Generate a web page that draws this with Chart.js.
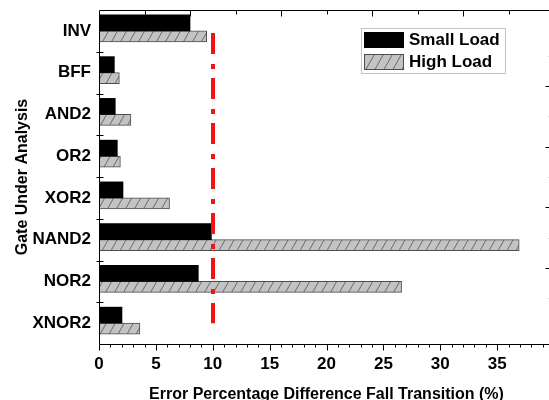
<!DOCTYPE html>
<html><head><meta charset="utf-8">
<script src="https://cdn.jsdelivr.net/npm/chart.js@4.4.0/dist/chart.umd.min.js"></script>
<style>html,body{margin:0;padding:0;overflow:hidden;background:#fff}#wrap{width:560px;height:410px;position:relative}</style>
</head><body><div id="wrap"><canvas id="c"></canvas></div>
<script>
const categories = ['INV','BFF','AND2','OR2','XOR2','NAND2','NOR2','XNOR2'];
const smallLoad = [8.0, 1.35, 1.43, 1.61, 2.11, 9.88, 8.73, 2.02];
const highLoad = [9.47, 1.79, 2.81, 1.88, 6.2, 36.94, 26.6, 3.6];
const seriesNames = ['Small Load', 'High Load'];
const xTickStep = 5;
const xMin = 0, xMax = 40;
const thresholdValue = 10;

const FONT = "'Liberation Sans', Arial, sans-serif";

function makeHatch() {
  const w = 9, h = 16;
  const c = document.createElement('canvas');
  c.width = w; c.height = h;
  const g = c.getContext('2d');
  g.fillStyle = '#c3c3c3';
  g.fillRect(0, 0, w, h);
  g.strokeStyle = '#6a6a6a';
  g.lineWidth = 1;
  for (const off of [-w, 0, w]) {
    g.beginPath();
    g.moveTo(off, h);
    g.lineTo(off + w, 0);
    g.stroke();
  }
  return document.getElementById('c').getContext('2d').createPattern(c, 'repeat');
}
const hatch = makeHatch();

const framePlugin = {
  id: 'frame',
  afterDatasetsDraw(chart) {
    const ctx = chart.ctx;
    const xs = chart.scales.x, ys = chart.scales.y;
    const x = Math.round(xs.getPixelForValue(thresholdValue));
    ctx.save();
    ctx.strokeStyle = '#f01414';
    ctx.lineWidth = 4;
    ctx.setLineDash([21, 10, 5, 9]);
    ctx.beginPath();
    ctx.moveTo(x, ys.getPixelForValue(0) + 2);
    ctx.lineTo(x, ys.getPixelForValue(categories.length - 1));
    ctx.stroke();
    ctx.restore();
  },
  afterDraw(chart) {
    const ctx = chart.ctx;
    const a = chart.chartArea;
    const xs = chart.scales.x, ys = chart.scales.y, y2 = chart.scales.y2;
    ctx.save();
    ctx.strokeStyle = '#000';
    ctx.lineWidth = 1;
    const L = Math.round(a.left) + 0.5, T = Math.round(a.top) + 0.5, B = Math.round(a.bottom) + 0.5, R = Math.round(a.right) + 0.5;
    ctx.beginPath();
    ctx.moveTo(L, T); ctx.lineTo(R, T); ctx.lineTo(R, B); ctx.lineTo(L, B); ctx.closePath();
    ctx.stroke();
    ctx.beginPath();
    for (let v = xMin; v < xMax; v += 1) {
      const px = Math.round(xs.getPixelForValue(v)) + 0.5;
      const len = v % xTickStep === 0 ? 6 : 3;
      ctx.moveTo(px, B); ctx.lineTo(px, B + len);
    }
    for (let v = 4; v < xMax; v += 4) {
      const px = Math.round(xs.getPixelForValue(v)) + 0.5;
      const len = v % 8 === 0 ? 6 : 4;
      ctx.moveTo(px, T); ctx.lineTo(px, T + len);
    }
    for (let i = 1; i < categories.length; i++) {
      const py = Math.round((ys.getPixelForValue(i - 1) + ys.getPixelForValue(i)) / 2) + 0.5;
      ctx.moveTo(L - 3, py); ctx.lineTo(L + 4, py);
    }
    ctx.stroke();
    ctx.beginPath();
    for (let v = 1; v < 5; v++) {
      const py = Math.round(y2.getPixelForValue(v)) + 0.5;
      ctx.moveTo(R, py); ctx.lineTo(R - 9, py);
    }
    ctx.stroke();
    ctx.strokeStyle = '#bbb';
    ctx.beginPath();
    for (let v = 0.5; v < 5; v += 1) {
      const py = Math.round(y2.getPixelForValue(v)) + 0.5;
      ctx.moveTo(R, py); ctx.lineTo(R - 6, py);
    }
    ctx.stroke();

    const lx = 361.5, ly = 28.5, lw = 144, lh = 45;
    ctx.fillStyle = '#fff';
    ctx.fillRect(lx, ly, lw, lh);
    ctx.strokeStyle = '#c4c4c4';
    ctx.strokeRect(lx, ly, lw, lh);
    const ds = chart.data.datasets;
    const rows = [32, 54];
    ctx.font = 'bold 17px ' + FONT;
    ctx.textBaseline = 'middle';
    ds.forEach((d, i) => {
      const by = rows[i];
      ctx.fillStyle = d.backgroundColor;
      ctx.fillRect(364, by, 40, 16);
      if (d.borderWidth) {
        ctx.strokeStyle = d.borderColor;
        ctx.strokeRect(364.5, by + 0.5, 39, 15);
      }
      ctx.fillStyle = '#000';
      ctx.fillText(d.label, 409, by + 8.5);
    });
    ctx.restore();
  }
};

new Chart(document.getElementById('c'), {
  type: 'bar',
  data: {
    labels: categories,
    datasets: [
      { label: seriesNames[0], data: smallLoad, backgroundColor: '#000', borderWidth: 0, barThickness: 16 },
      { label: seriesNames[1], data: highLoad, backgroundColor: hatch, borderColor: '#4d4d4d', borderWidth: 1, borderSkipped: false, barThickness: 11 }
    ]
  },
  options: {
    indexAxis: 'y',
    responsive: true,
    maintainAspectRatio: false,
    animation: false,
    devicePixelRatio: 1,
    layout: { padding: { top: 10, left: 0, right: 6, bottom: 0 } },
    plugins: { legend: { display: false }, tooltip: { enabled: false } },
    scales: {
      x: {
        type: 'linear', position: 'bottom', min: xMin, max: xMax,
        grid: { display: false, drawTicks: false }, border: { display: false },
        ticks: {
          stepSize: xTickStep, color: '#000', padding: 10,
          font: { family: FONT, size: 17, weight: 'bold' },
          callback: (v) => (v < xMax ? String(v) : '')
        },
        title: {
          display: true, text: 'Error Percentage Difference Fall Transition (%)', color: '#000',
          font: { family: FONT, size: 16, weight: 'bold' }, padding: { top: 0, bottom: 6 }
        },
        afterFit: (s) => { s.height = 66; s.paddingLeft = 0; s.paddingRight = 0; }
      },
      y: {
        type: 'category', position: 'left',
        grid: { display: false, drawTicks: false }, border: { display: false },
        ticks: { color: '#000', padding: 8, font: { family: FONT, size: 17, weight: 'bold' } },
        title: {
          display: true, text: 'Gate Under Analysis', color: '#000',
          font: { family: FONT, size: 16, weight: 'bold' }, padding: { top: 13, bottom: 0 }
        },
        afterFit: (s) => { s.width = 99; s.paddingTop = 0; s.paddingBottom = 0; }
      },
      y2: { type: 'linear', position: 'right', min: 0, max: 5, display: false }
    }
  },
  plugins: [framePlugin]
});
</script></body></html>
